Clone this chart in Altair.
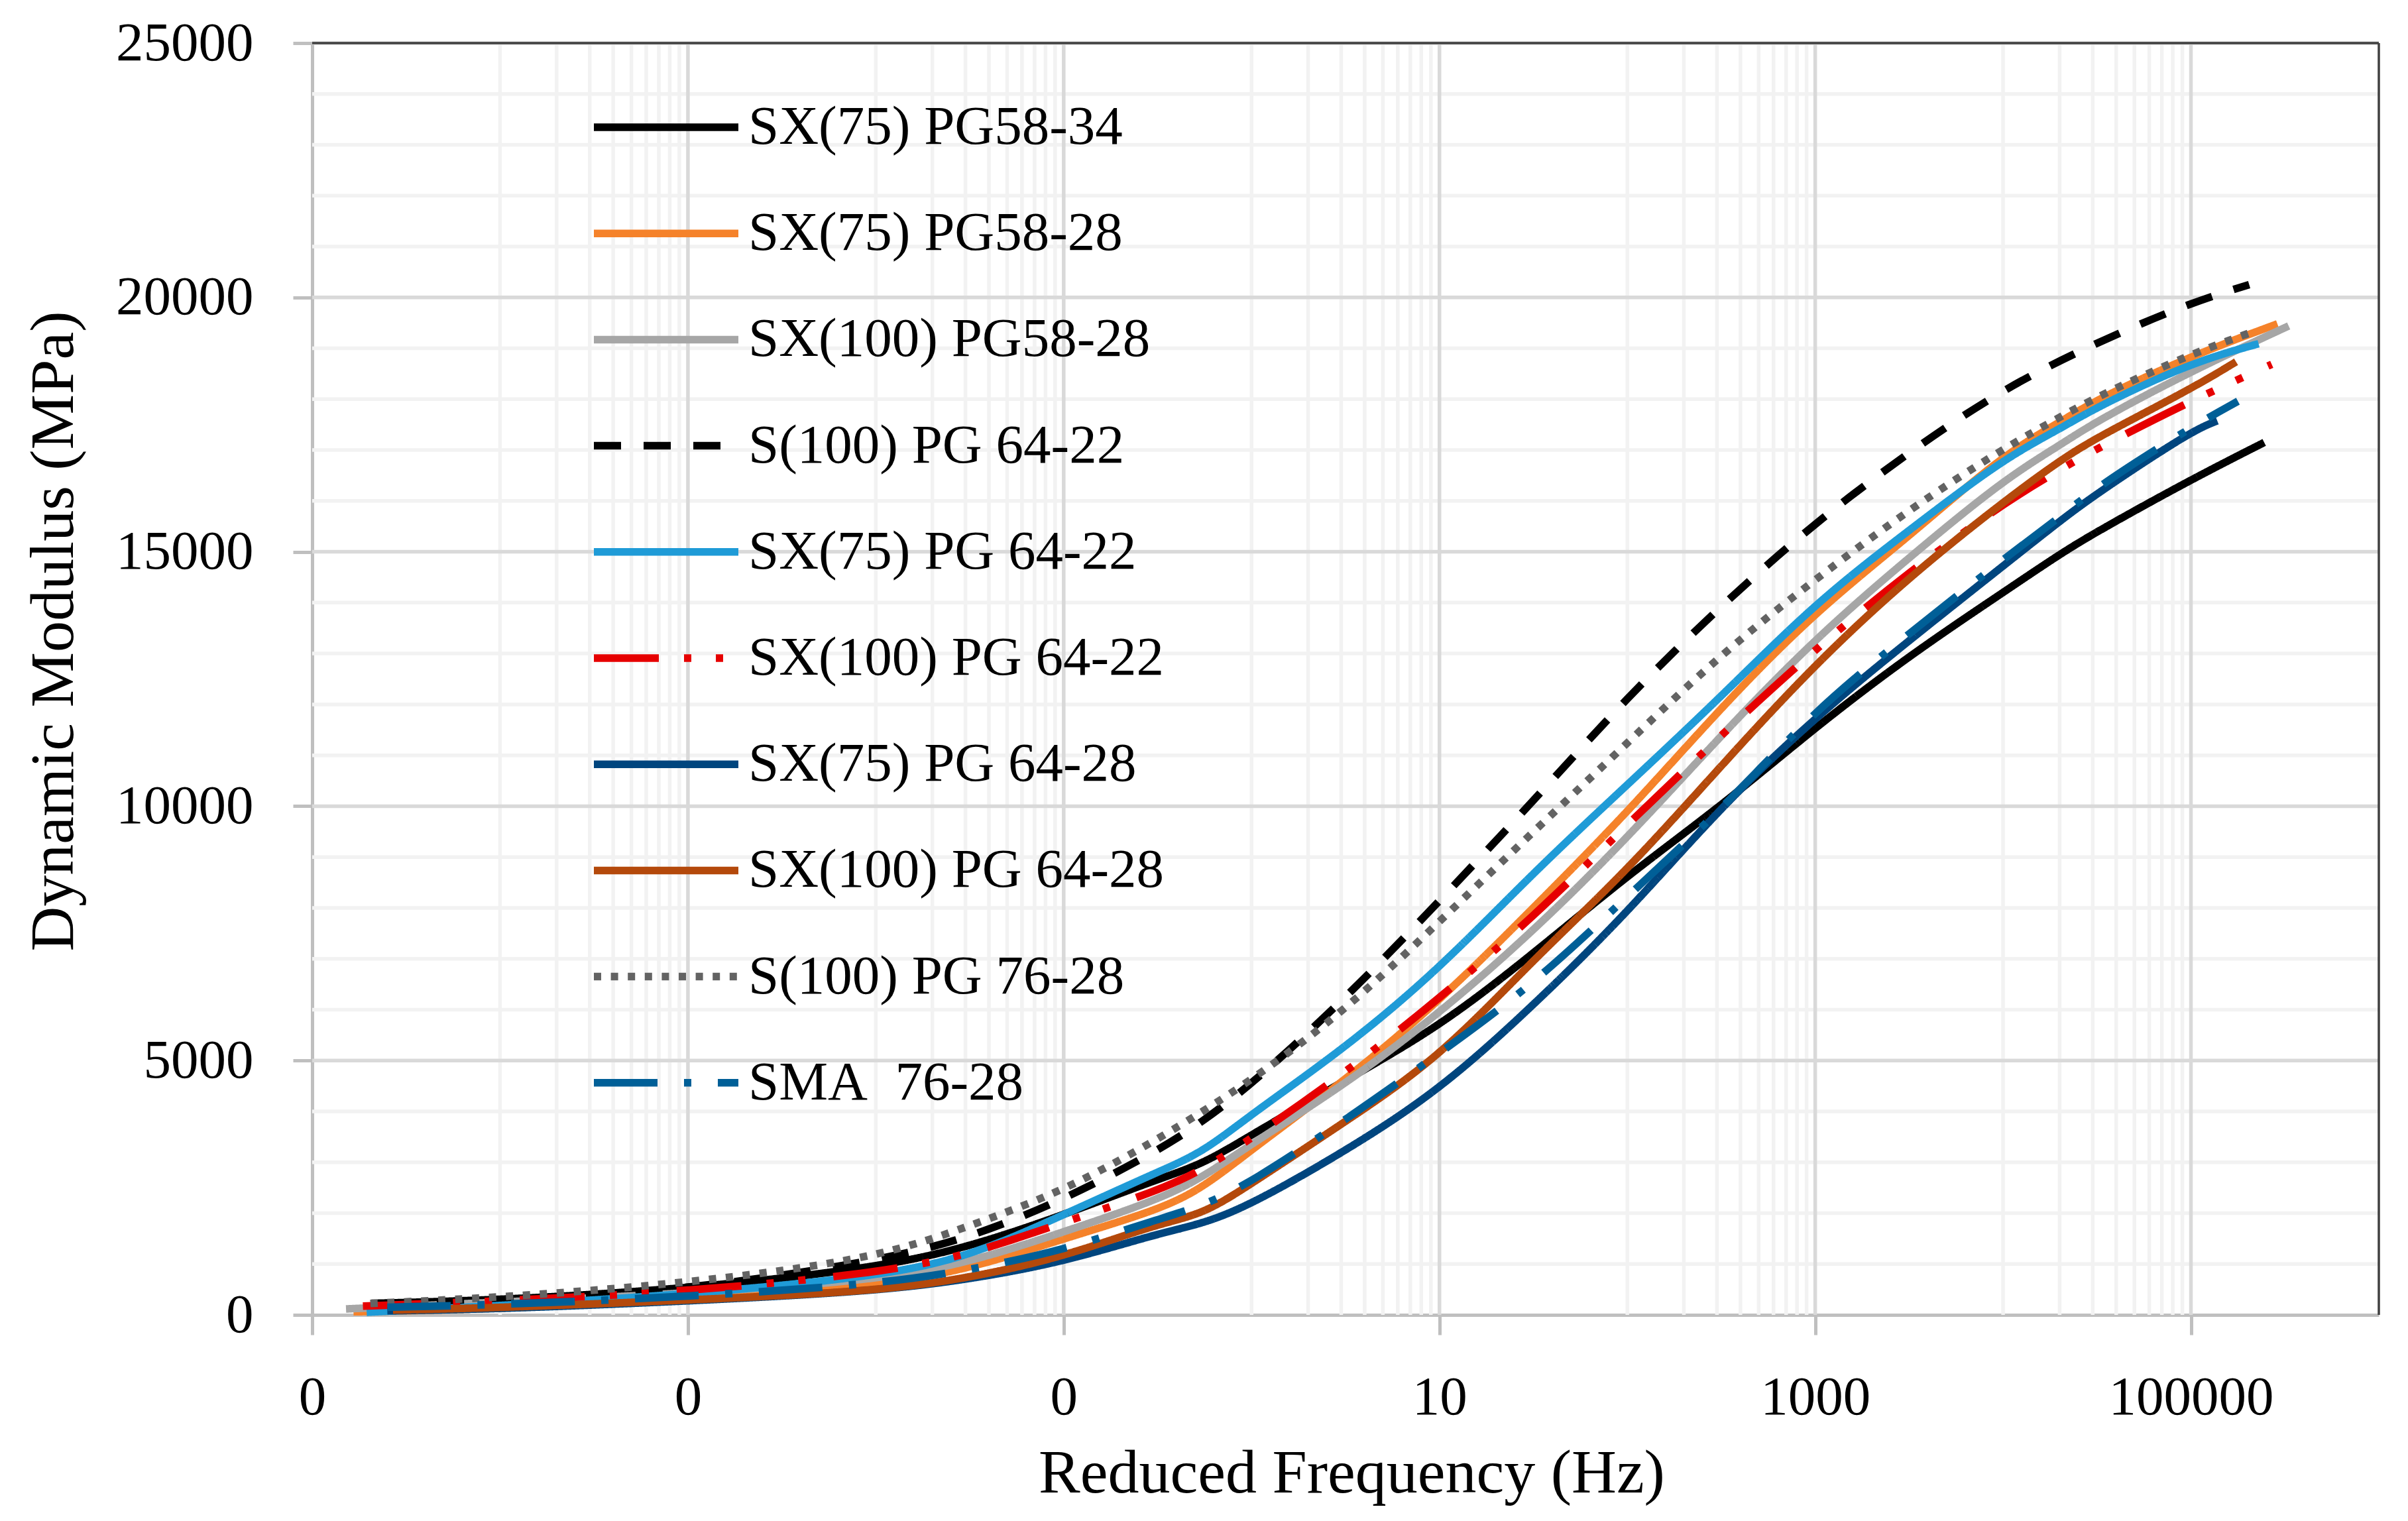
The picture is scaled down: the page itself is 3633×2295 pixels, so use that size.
import altair as alt
import pandas as pd

# ---------------- data ----------------
series_names = [
    "SX(75) PG58-34",
    "SX(75) PG58-28",
    "SX(100) PG58-28",
    "S(100) PG 64-22",
    "SX(75) PG 64-22",
    "SX(100) PG 64-22",
    "SX(75) PG 64-28",
    "SX(100) PG 64-28",
    "S(100) PG 76-28",
    "SMA\u00a0 76-28",
]
series_colors = ["#000000", "#f5822a", "#a6a6a6", "#000000", "#1f9bd7",
                 "#e60000", "#00457e", "#b4490b", "#636363", "#005f97"]
series_dashes = [[1, 0], [1, 0], [1, 0], [41, 34], [1, 0],
                 [98, 38, 11, 37, 11, 42], [1, 0], [1, 0], [11, 14.6],
                 [96, 40, 11, 40]]

# log10 of reduced frequency (Hz) and dynamic modulus (MPa)
logf_1 = [-4.69, -4, -3, -2, -1.5, -1, -0.5, -0.26, 0, 0.5, 1, 1.5, 2, 2.5, 3, 3.5, 4, 4.3, 4.5, 5, 5.39]
mod_1 = [226, 290, 510, 920, 1335, 1965, 2670, 2960, 3540, 4615, 5660, 7100, 8640, 10000, 11550, 12960, 14200, 14950, 15400, 16420, 17150]

logf_2 = [-4.78, -4, -3, -2, -1.5, -1, -0.5, -0.26, 0, 0.5, 1, 1.5, 2, 2.5, 3, 3.5, 4, 4.3, 4.5, 5, 5.46]
mod_2 = [60, 117, 290, 575, 900, 1500, 2055, 2490, 3250, 4615, 6160, 8000, 9870, 11950, 13825, 15300, 16910, 17540, 18000, 18850, 19480]

logf_3 = [-4.82, -4, -3, -2, -1.5, -1, -0.5, -0.26, 0, 0.5, 1, 1.5, 2, 2.5, 3, 3.5, 4, 4.3, 4.5, 5, 5.52]
mod_3 = [117, 250, 420, 680, 1030, 1630, 2260, 2700, 3365, 4530, 5925, 7540, 9370, 11400, 13300, 14890, 16410, 17090, 17575, 18550, 19440]

logf_4 = [-4.6, -4, -3, -2, -1.5, -1, -0.5, -0.26, 0, 0.5, 1, 1.5, 2, 2.5, 3, 3.5, 4, 4.5, 5, 5.31]
mod_4 = [200, 270, 490, 1050, 1510, 2260, 3220, 3800, 4530, 6215, 8135, 10100, 12150, 13950, 15580, 16965, 18210, 19120, 19900, 20250]

logf_5 = [-4.71, -4, -3, -2, -1.5, -1, -0.5, -0.26, 0, 0.5, 1, 1.5, 2, 2.5, 3, 3.5, 4, 4.3, 4.5, 5, 5.36]
mod_5 = [52, 180, 400, 750, 1140, 1970, 2810, 3190, 3950, 5250, 6800, 8700, 10420, 12150, 14000, 15425, 16825, 17410, 17850, 18720, 19090]

logf_6 = [-4.73, -4, -3, -2, -1.5, -1, -0.5, -0.26, 0, 0.5, 1, 1.5, 2, 2.5, 3, 3.5, 4, 4.3, 4.5, 5, 5.43]
mod_6 = [174, 270, 460, 813, 1180, 1820, 2435, 2850, 3470, 4760, 6215, 7820, 9640, 11400, 13090, 14610, 15950, 16610, 17030, 17970, 18685]

logf_7 = [-4.6, -4, -3, -2, -1.5, -1, -0.5, -0.26, 0, 0.5, 1, 1.5, 2, 2.5, 3, 3.5, 4, 4.3, 4.5, 5, 5.14]
mod_7 = [80, 117, 270, 465, 700, 1040, 1600, 1790, 2170, 3220, 4410, 6080, 7900, 10000, 11750, 13260, 14720, 15600, 16150, 17370, 17575]

logf_8 = [-4.57, -4, -3, -2, -1.5, -1, -0.5, -0.26, 0, 0.5, 1, 1.5, 2, 2.5, 3, 3.5, 4, 4.3, 4.5, 5, 5.24]
mod_8 = [95, 140, 290, 465, 725, 1140, 1795, 1970, 2580, 3800, 5050, 6990, 8730, 10800, 12800, 14510, 15980, 16790, 17250, 18200, 18735]

logf_9 = [-4.69, -4, -3, -2, -1.5, -1, -0.5, -0.26, 0, 0.5, 1, 1.5, 2, 2.5, 3, 3.5, 4, 4.3, 4.5, 5, 5.35]
mod_9 = [226, 340, 620, 1100, 1750, 2430, 3450, 4000, 4615, 5980, 7730, 9500, 11240, 13000, 14460, 15835, 17030, 17640, 18050, 18895, 19350]

logf_10 = [-4.6, -4, -3, -2, -1.5, -1, -0.5, -0.26, 0, 0.5, 1, 1.5, 2, 2.5, 3, 3.5, 4, 4.3, 4.5, 5, 5.25]
mod_10 = [150, 200, 357, 600, 880, 1270, 1880, 2140, 2610, 3830, 5140, 6490, 8230, 9920, 11900, 13390, 14855, 15670, 16280, 17450, 17960]

x_tick_values = [0.00001, 0.001, 0.1, 10, 1000, 100000]
y_tick_values = [0, 5000, 10000, 15000, 20000, 25000]

# ---------------- tables ----------------
all_logf = [logf_1, logf_2, logf_3, logf_4, logf_5, logf_6, logf_7, logf_8, logf_9, logf_10]
all_mod = [mod_1, mod_2, mod_3, mod_4, mod_5, mod_6, mod_7, mod_8, mod_9, mod_10]
rows = []
for i, (name, lf, md) in enumerate(zip(series_names, all_logf, all_mod)):
    for j, (a, b) in enumerate(zip(lf, md)):
        rows.append({"series": name, "freq": 10 ** a, "E": b, "k": j})
df = pd.DataFrame(rows)

minor_x = [m * k for m in x_tick_values for k in range(10, 100, 10) if m * k < 999999]
minor_y = [k * 1000 for k in range(1, 25) if k % 5 != 0]
df_minor_x = pd.DataFrame({"freq": minor_x})
df_minor_y = pd.DataFrame({"E": minor_y})
df_major_x = pd.DataFrame({"freq": x_tick_values[1:]})
df_major_y = pd.DataFrame({"E": y_tick_values[1:]})

W, H = 3118, 1919
FONT = "Liberation Serif"
AX = "#bfbfbf"
LW = 11.5

xscale = alt.Scale(type="log", domain=[0.00001, 1000000], nice=False)
yscale = alt.Scale(domain=[0, 25000], nice=False)

x_axis = alt.Axis(
    values=x_tick_values, labelExpr="format(datum.value, '.0f')",
    grid=False, domainColor=AX, domainWidth=5, tickColor=AX, tickWidth=5,
    tickSize=30, labelFont=FONT, labelFontSize=83, labelColor="#000000",
    labelBaseline="alphabetic", labelPadding=119, labelFlush=False,
    labelLimit=3000, labelOverlap=False,
    title="Reduced Frequency (Hz)", titleFont=FONT, titleFontSize=94,
    titleFontWeight="normal", titleColor="#000000", titleBaseline="alphabetic",
    titleY=267, titleX=1568, titleLimit=5000,
)
y_axis = alt.Axis(
    values=y_tick_values, grid=False, domainColor=AX, domainWidth=5,
    tickColor=AX, tickWidth=5, tickSize=29, labelFont=FONT, labelFontSize=83,
    labelColor="#000000", labelPadding=60, labelLimit=3000, labelOverlap=False,
    format="d",
    title="Dynamic Modulus (MPa)", titleFont=FONT, titleFontSize=94,
    titleFontWeight="normal", titleColor="#000000", titleBaseline="alphabetic",
    titleX=-362, titleY=887, titleLimit=5000,
)

X = lambda: alt.X("freq:Q", scale=xscale, axis=x_axis)
Y = lambda: alt.Y("E:Q", scale=yscale, axis=y_axis)

minor_v = alt.Chart(df_minor_x).mark_rule(color="#f2f2f2", strokeWidth=5.5).encode(x=X())
minor_h = alt.Chart(df_minor_y).mark_rule(color="#f2f2f2", strokeWidth=5.5).encode(y=Y())
major_v = alt.Chart(df_major_x).mark_rule(color="#d9d9d9", strokeWidth=5.5).encode(x=X())
major_h = alt.Chart(df_major_y).mark_rule(color="#d9d9d9", strokeWidth=5.5).encode(y=Y())

legend = alt.Legend(
    title=None, orient="none", legendX=419, legendY=12, direction="vertical",
    symbolType="stroke", symbolSize=218 * 218, symbolStrokeWidth=LW,
    labelFont=FONT, labelFontSize=83, labelColor="#000000", labelOffset=9,
    labelLimit=3000, rowPadding=3.2, padding=0,
)

lines = alt.Chart(df).mark_line(
    interpolate="basis", strokeWidth=LW, strokeCap="butt", strokeJoin="round"
).encode(
    x=X(), y=Y(),
    color=alt.Color("series:N", sort=series_names,
                    scale=alt.Scale(domain=series_names, range=series_colors),
                    legend=legend),
    strokeDash=alt.StrokeDash("series:N", sort=series_names,
                              scale=alt.Scale(domain=series_names, range=series_dashes),
                              legend=legend),
    order="k:Q",
)

border_top = alt.Chart(df_major_y).mark_rule(color="#404040", strokeWidth=2.5).encode(
    x=alt.value(0), x2=alt.value(W), y=alt.value(0))
border_right = alt.Chart(df_major_y).mark_rule(color="#404040", strokeWidth=2.5).encode(
    x=alt.value(W), y=alt.value(0), y2=alt.value(H))

chart = alt.layer(minor_v, minor_h, major_v, major_h, lines, border_top, border_right).properties(
    width=W, height=H,
    padding={"left": 463, "top": 57, "right": 36, "bottom": 303},
    autosize=alt.AutoSizeParams(type="none"),
    background="#ffffff",
).configure_view(strokeWidth=0)

chart.save("out.html", embed_options={"renderer": "svg", "actions": False})
